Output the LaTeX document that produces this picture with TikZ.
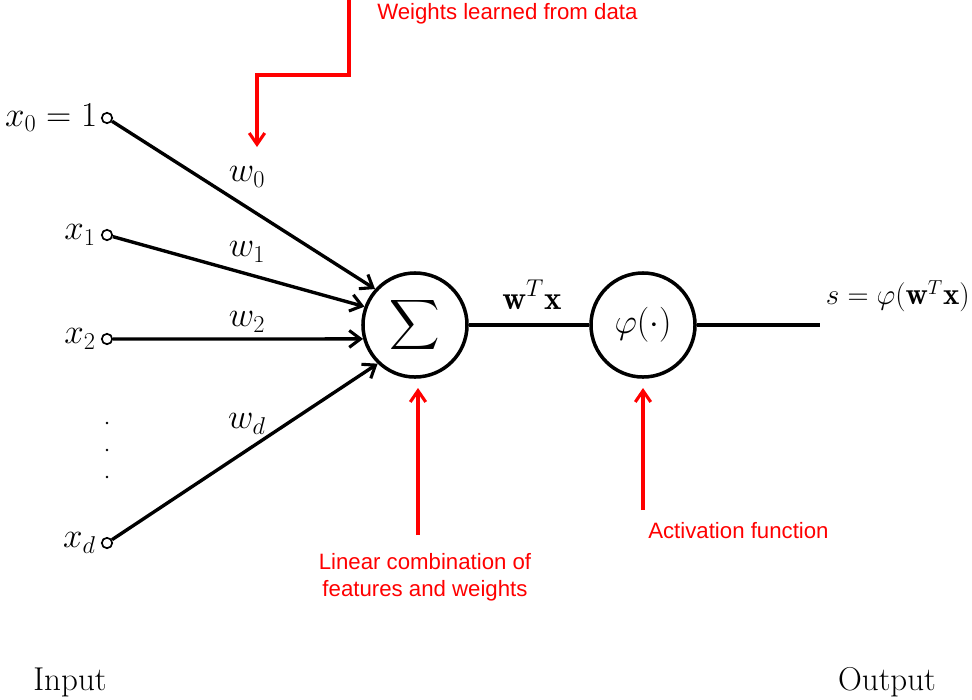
\documentclass[tikz,border=0pt]{standalone}
\usepackage{fontspec}
\usepackage{amsmath}
\newfontfamily\redfont{Liberation Sans}
\usetikzlibrary{arrows.meta}
\begin{document}
\begin{tikzpicture}[x=0.025cm,y=-0.025cm,
  blk/.style={font=\fontsize{23.5}{28}\selectfont},
  inpt/.style={circle,draw,fill=white,line width=1.2pt,minimum size=0.26cm,inner sep=0pt},
  neuron/.style={circle,draw,line width=2.5pt,minimum size=2.6cm,inner sep=0pt,font=\fontsize{23.5}{28}\selectfont},
  conn/.style={line width=2.4pt,-{Straight Barb[length=8pt,width=12pt,line width=2.2pt]}},
  plain/.style={line width=2.4pt},
  redarr/.style={red,line width=2.4pt,-{Straight Barb[length=8pt,width=11pt,line width=2.2pt]}},
  redtxt/.style={red,font=\redfont\fontsize{15.8}{19}\selectfont,inner sep=0pt}
]
\useasboundingbox (0,0) rectangle (972,699);

% input terminals
\node[inpt] (in0) at (107,118) {};
\node[inpt] (in1) at (107,235) {};
\node[inpt] (in2) at (107,339) {};
\node[inpt] (ind) at (107,543) {};
\node[blk,anchor=east,inner sep=2.5pt] (l0) at (in0.west) {$x_0=1$};
\node[blk,anchor=east,inner sep=3.5pt] (l1) at (in1.west) {$x_1$};
\node[blk,anchor=east,inner sep=3.5pt] (l2) at (in2.west) {$x_2$};
\node[blk,anchor=east,inner sep=3.5pt] (ld) at (ind.west) {$x_d$};
\fill (107,423) circle (1.4);
\fill (107,450) circle (1.4);
\fill (107,477) circle (1.4);

% neurons
\node[neuron] (sum) at (415,325) {$\displaystyle\sum$};
\node[neuron] (phi) at (643,325) {$\varphi(\cdot)$};
\coordinate (out) at (820,325);

% connections
\draw[conn] (in0) -- (sum.138);
\draw[conn] (in1) -- (sum.160);
\draw[conn] (in2) -- (sum.195);
\draw[conn] (ind) -- (sum.226);
\draw[plain] (sum) -- (phi);
\draw[plain] (phi) -- (out);

% weight labels
\node[blk] (w0) at (247,177) {$w_0$};
\node[blk] (w1) at (247,252) {$w_1$};
\node[blk] (w2) at (247,322) {$w_2$};
\node[blk] (wd) at (247,424) {$w_d$};
\node[blk] (wtx) at (532,295) {$\mathbf{w}^T\mathbf{x}$};
\node[blk,font=\fontsize{22}{26}\selectfont,anchor=east,inner sep=0pt] (s) at (970,296) {$s=\varphi(\mathbf{w}^T\mathbf{x})$};

% red annotations
\coordinate (r1a) at (349,0);
\coordinate (r1b) at (349,75);
\coordinate (r1c) at (257,75);
\coordinate (r1d) at (257,147);
\draw[redarr] (r1a) -- (r1b) -- (r1c) -- (r1d);
\node[redtxt,anchor=west] (t1) at (377,14) {Weights learned from data};

\coordinate (r2a) at (418,535);
\coordinate (r2b) at (418,388);
\draw[redarr] (r2a) -- (r2b);
\node[redtxt,align=center] (t2) at (425,577) {Linear combination of\\ features and weights};

\coordinate (r3a) at (643,510);
\coordinate (r3b) at (643,388);
\draw[redarr] (r3a) -- (r3b);
\node[redtxt,anchor=west] (t3) at (648,531) {Activation function};

% bottom labels
\node[blk] (inp) at (70,682) {Input};
\node[blk] (outp) at (887,682) {Output};
\end{tikzpicture}
\end{document}
